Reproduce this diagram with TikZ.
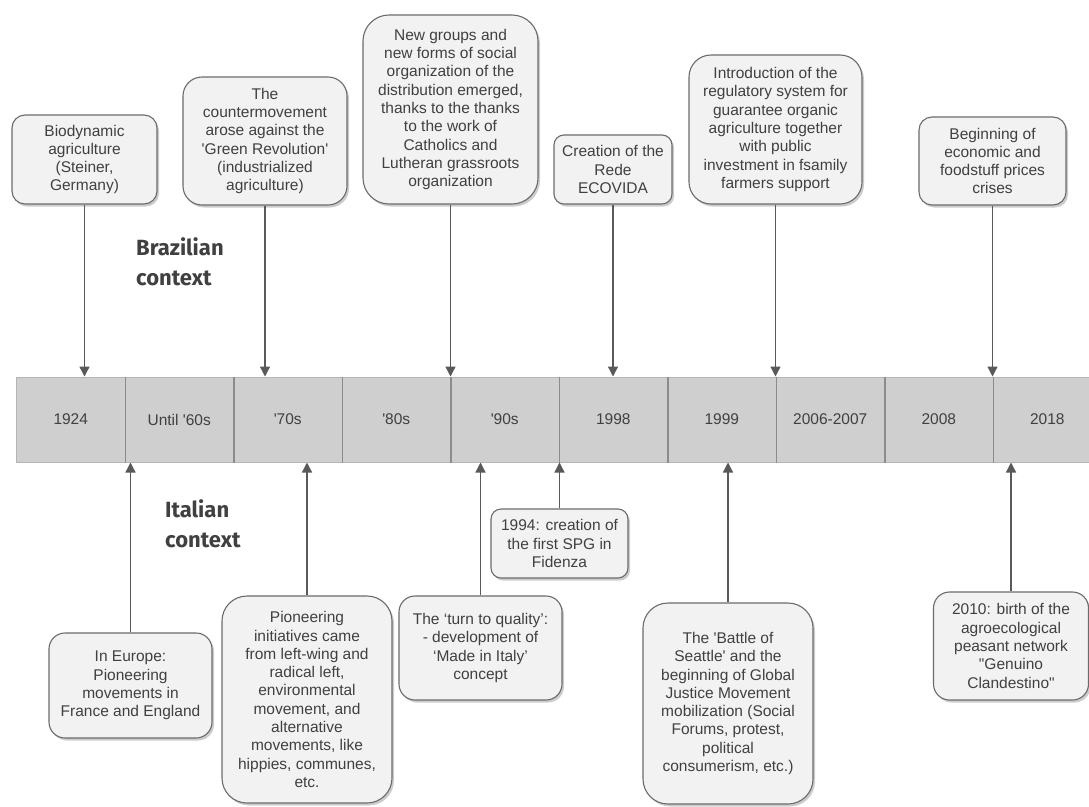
\documentclass[tikz,border=0pt]{standalone}
\usepackage{fontspec}
\setmainfont{Liberation Sans}
\newfontfamily\labelfont{Fira Sans}
\usetikzlibrary{arrows.meta,shadows}
\definecolor{txt}{HTML}{404040}
\definecolor{boxfill}{HTML}{F2F2F2}
\definecolor{boxline}{HTML}{6B6B6B}
\definecolor{barfill}{HTML}{CFCFCF}
\definecolor{barline}{HTML}{B5B5B5}
\definecolor{divline}{HTML}{8C8C8C}
\definecolor{arrowc}{HTML}{595959}
\newcommand{\sq}{\textquotesingle}
\newcommand{\dq}{\textquotedbl}
\tikzset{
  event/.style={draw=boxline, line width=1.1pt, fill=boxfill, align=center,
    text=txt, font=\fontsize{15.5}{18.3}\selectfont, inner sep=2pt,
    drop shadow={shadow xshift=2pt, shadow yshift=-2.5pt, fill=black, opacity=0.2}},
  cell/.style={draw=barline, line width=1pt, fill=barfill, minimum width=108.5,
    minimum height=85, inner sep=0pt, text=txt, font=\fontsize{15.5}{18.3}\selectfont},
  divider/.style={draw=divline, line width=1.1pt},
  conn/.style={draw=arrowc, line width=1.3pt, -{Triangle[width=10pt,length=10pt]}},
  ctx/.style={font=\labelfont\bfseries\fontsize{22}{30}\selectfont, text=txt,
    align=left, inner sep=0pt}
}
\begin{document}
\begin{tikzpicture}[x=1pt,y=-1pt]
\useasboundingbox (0,0) rectangle (1089,806);
\fill[white] (0,0) rectangle (1089,806);

% timeline cells
\node[cell] (c1)  at (70.75,419.5)  {1924};
\node[cell] (c2)  at (179.25,419.5) {Until \sq60s};
\node[cell] (c3)  at (287.75,419.5) {\sq70s};
\node[cell] (c4)  at (396.25,419.5) {\sq80s};
\node[cell] (c5)  at (504.75,419.5) {\sq90s};
\node[cell] (c6)  at (613.25,419.5) {1998};
\node[cell] (c7)  at (721.75,419.5) {1999};
\node[cell] (c8)  at (830.25,419.5) {2006-2007};
\node[cell] (c9)  at (938.75,419.5) {2008};
\node[cell] (c10) at (1047.25,419.5) {2018};
\foreach \a in {1,...,9}{
  \draw[divider] (c\a.north east) -- (c\a.south east);
}

% Brazilian events (above)
\node[event, minimum width=145, minimum height=89, rounded corners=13] (t1) at (84.5,159.5)
  {Biodynamic\\agriculture\\(Steiner,\\Germany)};
\node[event, minimum width=164, minimum height=128, rounded corners=19] (t2) at (265,141)
  {The\\countermovement\\arose against the\\\sq Green Revolution\sq\\(industrialized\\agriculture)};
\node[event, minimum width=175, minimum height=189, rounded corners=26] (t3) at (450.5,109.5)
  {New groups and\\new forms of social\\organization of the\\distribution emerged,\\thanks to the thanks\\to the work of\\Catholics and\\Lutheran grassroots\\organization};
\node[event, minimum width=118, minimum height=69, rounded corners=10] (t4) at (613,169.5)
  {Creation of the\\Rede\\ECOVIDA};
\node[event, minimum width=173, minimum height=149, rounded corners=22] (t5) at (775.5,129.5)
  {Introduction of the\\regulatory system for\\guarantee organic\\agriculture together\\with public\\investment in fsamily\\farmers support};
\node[event, minimum width=147, minimum height=88, rounded corners=13] (t6) at (992.5,161)
  {Beginning of\\economic and\\foodstuff prices\\crises};

% Italian events (below)
\node[event, minimum width=163, minimum height=105, rounded corners=16] (b1) at (130.5,685.5)
  {In Europe:\\Pioneering\\movements in\\France and England};
\node[event, minimum width=170, minimum height=207, rounded corners=25] (b2) at (307,699.5)
  {Pioneering\\initiatives came\\from left-wing and\\radical left,\\environmental\\movement, and\\alternative\\movements, like\\hippies, communes,\\etc.};
\node[event, minimum width=163, minimum height=104, rounded corners=16] (b3) at (480.5,648)
  {The ‘turn to quality’:\\- development of\\‘Made in Italy’\\concept};
\node[event, minimum width=137, minimum height=69, rounded corners=10] (b4) at (559.5,543.5)
  {1994: creation of\\the first SPG in\\Fidenza};
\node[event, minimum width=170, minimum height=201, rounded corners=25] (b5) at (728,703.5)
  {The \sq Battle of\\Seattle\sq{} and the\\beginning of Global\\Justice Movement\\mobilization (Social\\Forums, protest,\\political\\consumerism, etc.)};
\node[event, minimum width=155, minimum height=108, rounded corners=16] (b6) at (1011,646)
  {2010: birth of the\\agroecological\\peasant network\\\dq Genuino\\Clandestino\dq};

% connectors to the timeline
\foreach \n in {t1,t2,t3,t4,t5,t6}{
  \draw[conn] (\n.south) -- (\n.south |- c1.north);
}
\foreach \n in {b1,b2,b3,b4,b5,b6}{
  \draw[conn] (\n.north) -- (\n.north |- c1.south);
}

% context labels
\node[ctx, anchor=north west] (brl) at (136,237) {Brazilian\\context};
\node[ctx, anchor=north west] (itl) at (165,499) {Italian\\context};
\end{tikzpicture}
\end{document}
